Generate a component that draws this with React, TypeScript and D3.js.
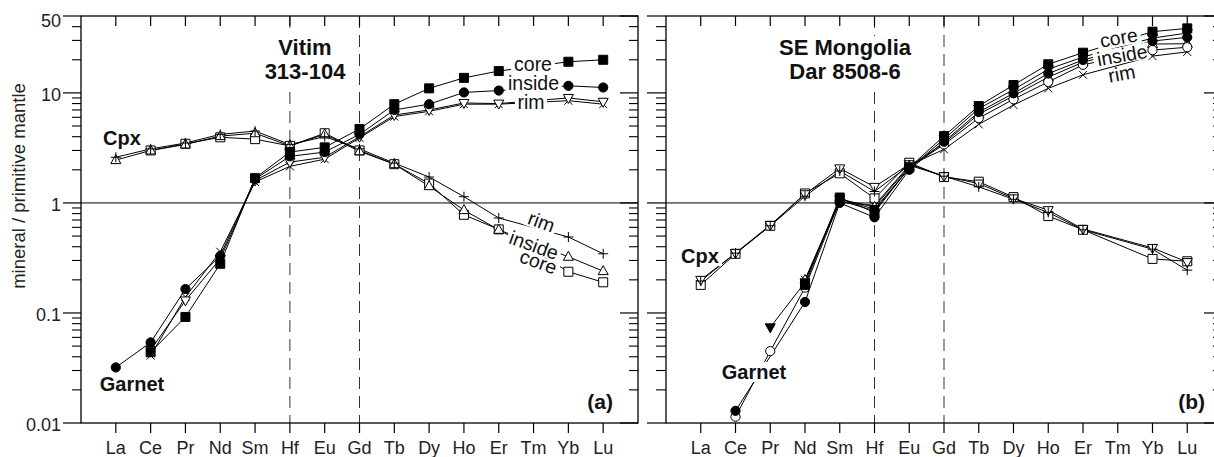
import React from "react";
import * as d3 from "d3";

// Element order along the x axis
const elements = ["La", "Ce", "Pr", "Nd", "Sm", "Hf", "Eu", "Gd", "Tb", "Dy", "Ho", "Er", "Tm", "Yb", "Lu"];
const yTicks = [0.01, 0.1, 1, 10, 50];
const yTickLabels = ["0.01", "0.1", "1", "10", "50"];

type V = number | null;

// (a) Vitim 313-104 — clinopyroxene
const cpxCoreA: V[] = [null, 3.0, 3.45, 3.95, 3.8, 3.3, 4.3, 3.0, 2.25, 1.5, 0.78, 0.575, null, 0.237, 0.19];
const cpxInsideA: V[] = [2.45, 3.0, 3.4, 4.05, 4.3, 3.3, 4.2, 2.95, 2.25, 1.42, 0.86, 0.57, null, 0.324, 0.24];
const cpxRimA: V[] = [2.6, 3.1, 3.5, 4.2, 4.5, 3.4, 4.0, 3.1, 2.3, 1.72, 1.14, 0.73, null, 0.49, 0.345];
// (a) Vitim 313-104 — garnet
const grtCoreA: V[] = [null, 0.044, 0.092, 0.28, 1.68, 2.9, 3.2, 4.7, 7.9, 11.0, 13.7, 15.8, null, 19.2, 20.0];
const grtInsideA: V[] = [0.032, 0.054, 0.165, 0.33, 1.65, 2.65, 2.9, 4.2, 7.0, 7.9, 10.1, 10.5, null, 11.6, 11.2];
const grtRimA: V[] = [null, 0.046, 0.13, 0.31, 1.6, 2.35, 2.6, 4.0, 6.3, 7.0, 8.1, 8.0, null, 9.0, 8.3];
const grtRim2A: V[] = [null, 0.041, 0.14, 0.36, 1.55, 2.15, 2.5, 3.9, 6.1, 6.8, 7.9, 7.9, null, 8.5, 7.9];

// (b) SE Mongolia Dar 8508-6 — clinopyroxene
const cpxCoreB: V[] = [0.18, 0.345, 0.62, 1.22, 1.86, 1.1, 2.32, 1.72, 1.56, 1.13, 0.76, 0.57, null, 0.31, 0.295];
const cpxInsideB: V[] = [0.2, 0.35, 0.63, 1.2, 2.06, 1.4, 2.25, 1.75, 1.5, 1.1, 0.86, 0.58, null, 0.39, 0.29];
const cpxRimB: V[] = [0.195, 0.35, 0.62, 1.15, 1.95, 1.27, 2.2, 1.75, 1.4, 1.08, 0.82, 0.57, null, 0.38, 0.245];
// (b) SE Mongolia Dar 8508-6 — garnet
const grtCoreB: V[] = [null, null, null, 0.18, 1.12, 0.82, 2.1, 4.05, 7.6, 11.8, 18.2, 23.2, null, 36, 38.6];
const grtCore2B: V[] = [null, null, 0.074, 0.19, 1.08, 0.88, 2.05, 3.8, 7.2, 10.7, 16.4, 21.2, null, 31.5, 35];
const grtInsideB: V[] = [null, 0.0129, null, 0.126, 1.0, 0.74, 2.0, 3.6, 6.7, 9.9, 15.0, 19.9, null, 29.6, 32];
const grtInside2B: V[] = [null, 0.0114, 0.045, 0.17, 1.05, 0.85, 2.1, 3.4, 5.9, 8.75, 12.6, 18.0, null, 24.5, 26];
const grtRimB: V[] = [null, null, null, 0.2, 1.08, 0.92, 2.15, 3.5, 6.4, 9.4, 13.9, 19.0, null, 27.8, 28];
const grtRim2B: V[] = [null, null, null, 0.2, 1.02, 0.95, 2.2, 3.07, 5.18, 7.76, 11.0, 14.6, null, 21.6, 23.6];

type Marker = "square" | "circle" | "triUp" | "triDown" | "plus" | "cross";
interface Series { values: V[]; marker: Marker; filled: boolean }

const FONT = "'Liberation Sans', Arial, Helvetica, sans-serif";
const W = 1214;
const H = 457;
const TOP = 16;
const BOTTOM = 423;

const y = d3.scaleLog().domain([0.01, 50]).range([BOTTOM, TOP]);

function markerPath(m: Marker, x: number, yy: number): string {
  switch (m) {
    case "square":
      return `M${x - 4.5},${yy - 4.5}h9v9h-9Z`;
    case "triUp":
      return `M${x},${yy - 5.5}L${x + 5},${yy + 3.5}L${x - 5},${yy + 3.5}Z`;
    case "triDown":
      return `M${x},${yy + 5.5}L${x + 5},${yy - 3.5}L${x - 5},${yy - 3.5}Z`;
    case "plus":
      return `M${x - 5},${yy}H${x + 5}M${x},${yy - 5}V${yy + 5}`;
    case "cross":
      return `M${x - 4},${yy - 4}L${x + 4},${yy + 4}M${x + 4},${yy - 4}L${x - 4},${yy + 4}`;
    default:
      return "";
  }
}

interface LabelSpec { text: string; cx: number; cy: number; w: number; h: number; angle: number; size: number; bold?: boolean }

interface PanelSpec {
  left: number;
  right: number;
  showYLabels: boolean;
  outerTickLeft: [number, number];
  series: Series[];
  title: [string, string];
  titleX: number;
  titleBox: [number, number, number, number];
  tag: string;
  tagX: number;
  labels: LabelSpec[];
}

const panels: PanelSpec[] = [
  {
    left: 81,
    right: 638,
    showYLabels: true,
    outerTickLeft: [18, 9],
    series: [
      { values: cpxCoreA, marker: "square", filled: false },
      { values: cpxInsideA, marker: "triUp", filled: false },
      { values: cpxRimA, marker: "plus", filled: false },
      { values: grtRim2A, marker: "cross", filled: false },
      { values: grtRimA, marker: "triDown", filled: false },
      { values: grtInsideA, marker: "circle", filled: true },
      { values: grtCoreA, marker: "square", filled: true },
    ],
    title: ["Vitim", "313-104"],
    titleX: 305,
    titleBox: [262, 35, 88, 50],
    tag: "(a)",
    tagX: 613,
    labels: [
      { text: "core", cx: 533, cy: 66, w: 44, h: 15, angle: 0, size: 19.5 },
      { text: "inside", cx: 533.5, cy: 83, w: 56, h: 16, angle: 0, size: 19.5 },
      { text: "rim", cx: 531, cy: 104, w: 32, h: 15, angle: 0, size: 19.5 },
      { text: "rim", cx: 541, cy: 223, w: 32, h: 15, angle: 20, size: 19.5 },
      { text: "inside", cx: 534, cy: 245, w: 56, h: 16, angle: 20, size: 19.5 },
      { text: "core", cx: 538, cy: 263, w: 44, h: 15, angle: 20, size: 19.5 },
      { text: "Cpx", cx: 122, cy: 138, w: 44, h: 20, angle: 0, size: 20, bold: true },
      { text: "Garnet", cx: 132, cy: 384, w: 72, h: 20, angle: 0, size: 20, bold: true },
    ],
  },
  {
    left: 666,
    right: 1222,
    showYLabels: false,
    outerTickLeft: [19, 10],
    series: [
      { values: cpxCoreB, marker: "square", filled: false },
      { values: cpxInsideB, marker: "triDown", filled: false },
      { values: cpxRimB, marker: "plus", filled: false },
      { values: grtRim2B, marker: "cross", filled: false },
      { values: grtRimB, marker: "triUp", filled: false },
      { values: grtInside2B, marker: "circle", filled: false },
      { values: grtInsideB, marker: "circle", filled: true },
      { values: grtCore2B, marker: "triDown", filled: true },
      { values: grtCoreB, marker: "square", filled: true },
    ],
    title: ["SE Mongolia", "Dar 8508-6"],
    titleX: 845,
    titleBox: [770, 36, 148, 51],
    tag: "(b)",
    tagX: 1205,
    labels: [
      { text: "core", cx: 1119, cy: 39, w: 44, h: 15, angle: -10, size: 19.5 },
      { text: "inside", cx: 1122, cy: 55, w: 58, h: 16, angle: -10, size: 19.5 },
      { text: "rim", cx: 1122, cy: 75, w: 32, h: 15, angle: -10, size: 19.5 },
      { text: "Cpx", cx: 700, cy: 256, w: 44, h: 20, angle: 0, size: 20, bold: true },
      { text: "Garnet", cx: 754, cy: 372, w: 72, h: 20, angle: 0, size: 20, bold: true },
    ],
  },
];

function minorTicks(): number[] {
  const out: number[] = [];
  for (const dec of [0.01, 0.1, 1, 10]) {
    for (let k = 2; k <= 9; k++) {
      const v = dec * k;
      if (v < 50) out.push(v);
    }
  }
  return out;
}

function Panel({ p }: { p: PanelSpec }) {
  const x = d3.scalePoint<string>().domain(elements).range([p.left, p.right]).padding(1);
  const lineGen = d3
    .line<{ i: number; v: number }>()
    .x((d) => x(elements[d.i]) as number)
    .y((d) => y(d.v));
  const minors = minorTicks();
  const [majL, minL] = p.outerTickLeft;

  return (
    <g>
      {/* reference line at 1 */}
      <line x1={p.left} x2={p.right} y1={y(1)} y2={y(1)} stroke="#000" strokeWidth={1} />
      {/* dashed guides at Hf and Gd */}
      {["Hf", "Gd"].map((e) => (
        <line key={e} x1={x(e)} x2={x(e)} y1={TOP} y2={BOTTOM} stroke="#333" strokeWidth={1} strokeDasharray="12,7" />
      ))}

      {/* title with white backing */}
      <rect x={p.titleBox[0]} y={p.titleBox[1]} width={p.titleBox[2]} height={p.titleBox[3]} fill="#fff" />
      <text x={p.titleX} y={55} textAnchor="middle" fontFamily={FONT} fontWeight="bold" fontSize={22} fill="#111">
        {p.title[0]}
      </text>
      <text x={p.titleX} y={79} textAnchor="middle" fontFamily={FONT} fontWeight="bold" fontSize={22} fill="#111">
        {p.title[1]}
      </text>

      {/* series lines */}
      {p.series.map((s, si) => {
        const pts = s.values
          .map((v, i) => ({ i, v }))
          .filter((d): d is { i: number; v: number } => d.v !== null);
        return <path key={"l" + si} d={lineGen(pts) || ""} fill="none" stroke="#000" strokeWidth={1} />;
      })}

      {/* text labels with white backing */}
      {p.labels.map((l, li) => (
        <g key={"t" + li} transform={`translate(${l.cx},${l.cy}) rotate(${l.angle})`}>
          <rect x={-l.w / 2} y={-l.h / 2} width={l.w} height={l.h} fill="#fff" />
          <text
            textAnchor="middle"
            dy={l.bold ? "0.36em" : l.text === "inside" ? "0.36em" : "0.28em"}
            fontFamily={FONT}
            fontSize={l.size}
            fontWeight={l.bold ? "bold" : "normal"}
            fill="#111"
          >
            {l.text}
          </text>
        </g>
      ))}

      {/* markers */}
      {p.series.map((s, si) =>
        s.values.map((v, i) => {
          if (v === null) return null;
          const cx = x(elements[i]) as number;
          const cy = y(v);
          if (s.marker === "circle") {
            return (
              <circle key={`m${si}-${i}`} cx={cx} cy={cy} r={4.6} fill={s.filled ? "#000" : "#fff"} stroke="#000" strokeWidth={1} />
            );
          }
          const open = s.marker === "plus" || s.marker === "cross";
          return (
            <path
              key={`m${si}-${i}`}
              d={markerPath(s.marker, cx, cy)}
              fill={open ? "none" : s.filled ? "#000" : "#fff"}
              stroke="#000"
              strokeWidth={1}
            />
          );
        })
      )}

      {/* frame */}
      <rect x={p.left} y={TOP} width={p.right - p.left} height={BOTTOM - TOP} fill="none" stroke="#000" strokeWidth={1.3} />

      {/* category ticks: inward at top, outward at bottom */}
      {elements.map((e) => (
        <g key={"xt" + e}>
          <line x1={x(e)} x2={x(e)} y1={TOP} y2={TOP + 10} stroke="#000" strokeWidth={1.2} />
          <line x1={x(e)} x2={x(e)} y1={BOTTOM} y2={BOTTOM + 10} stroke="#000" strokeWidth={1.2} />
          <text x={x(e)} y={454} textAnchor="middle" fontFamily={FONT} fontSize={18} fill="#222">
            {e}
          </text>
        </g>
      ))}

      {/* log ticks: outward on the left, inward on the right */}
      {yTicks.map((t) => (
        <g key={"ym" + t}>
          <line x1={p.left - majL} x2={p.left} y1={y(t)} y2={y(t)} stroke="#000" strokeWidth={1.2} />
          <line x1={p.right - 18} x2={p.right} y1={y(t)} y2={y(t)} stroke="#000" strokeWidth={1.2} />
        </g>
      ))}
      {minors.map((t) => (
        <g key={"yn" + t}>
          <line x1={p.left - minL} x2={p.left} y1={y(t)} y2={y(t)} stroke="#000" strokeWidth={1.1} />
          <line x1={p.right - 9} x2={p.right} y1={y(t)} y2={y(t)} stroke="#000" strokeWidth={1.1} />
        </g>
      ))}
      {p.showYLabels &&
        yTicks.map((t, i) => (
          <text
            key={"yl" + t}
            x={61}
            y={t === 50 ? y(t) + 5 : y(t) + 1.5}
            dy="0.35em"
            textAnchor="end"
            fontFamily={FONT}
            fontSize={18}
            fill="#222"
          >
            {yTickLabels[i]}
          </text>
        ))}

      {/* panel tag */}
      <text x={p.tagX} y={409} textAnchor="end" fontFamily={FONT} fontWeight="bold" fontSize={21} fill="#111">
        {p.tag}
      </text>
    </g>
  );
}

export default function App() {
  return (
    <div style={{ position: "fixed", left: 0, top: 0, width: W, height: H, background: "#fff" }}>
      <svg width={W} height={H} viewBox={`0 0 ${W} ${H}`} style={{ display: "block" }}>
        <rect x={0} y={0} width={W} height={H} fill="#fff" />
        {panels.map((p, i) => (
          <Panel key={i} p={p} />
        ))}
        <text
          transform={`translate(25,186) rotate(-90)`}
          textAnchor="middle"
          fontFamily={FONT}
          fontSize={18.5}
          fill="#222"
        >
          mineral / primitive mantle
        </text>
      </svg>
    </div>
  );
}
